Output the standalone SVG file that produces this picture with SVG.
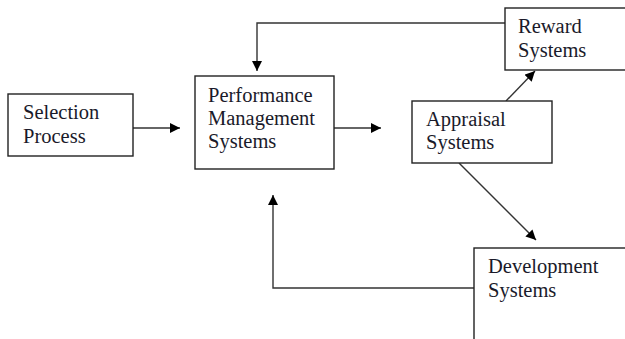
<svg xmlns="http://www.w3.org/2000/svg" width="625" height="339" viewBox="0 0 625 339">
<defs>
<style>
.box{fill:#fff;stroke:#222;stroke-width:1.4}
.ln{fill:none;stroke:#333;stroke-width:1.4}
text{font-family:"Liberation Serif","Times New Roman",serif;font-size:20.5px;fill:#1a1a2a}
</style>
<marker id="ah" viewBox="0 0 10 10" refX="10" refY="5" markerWidth="10" markerHeight="10" markerUnits="userSpaceOnUse" orient="auto">
<path d="M0,0 L10,5 L0,10 z" fill="#000"/>
</marker>
</defs>
<rect width="625" height="339" fill="#fff"/>
<g id="connectors">
<line class="ln" x1="133" y1="128" x2="180" y2="128" marker-end="url(#ah)"/>
<line class="ln" x1="334" y1="128" x2="381" y2="128" marker-end="url(#ah)"/>
<polyline class="ln" points="505,23 257,23 257,71" marker-end="url(#ah)"/>
<line class="ln" x1="506" y1="101" x2="535" y2="71" marker-end="url(#ah)"/>
<line class="ln" x1="459" y1="163" x2="536" y2="240" marker-end="url(#ah)"/>
<polyline class="ln" points="474,288 273,288 273,195" marker-end="url(#ah)"/>
</g>
<g id="selection">
<rect class="box" x="8" y="94" width="125" height="62"/>
<text x="23" y="119">Selection</text>
<text x="23" y="143">Process</text>
</g>
<g id="performance">
<rect class="box" x="195" y="76" width="139" height="93"/>
<text x="208" y="102">Performance</text>
<text x="208" y="125">Management</text>
<text x="208" y="148">Systems</text>
</g>
<g id="appraisal">
<rect class="box" x="412" y="101" width="140" height="62"/>
<text x="426" y="126">Appraisal</text>
<text x="426" y="149">Systems</text>
</g>
<g id="reward">
<rect class="box" x="505" y="8" width="130" height="62"/>
<text x="518" y="33">Reward</text>
<text x="518" y="57">Systems</text>
</g>
<g id="development">
<rect class="box" x="474" y="248" width="170" height="110"/>
<text x="488" y="273">Development</text>
<text x="488" y="297">Systems</text>
</g>
</svg>
